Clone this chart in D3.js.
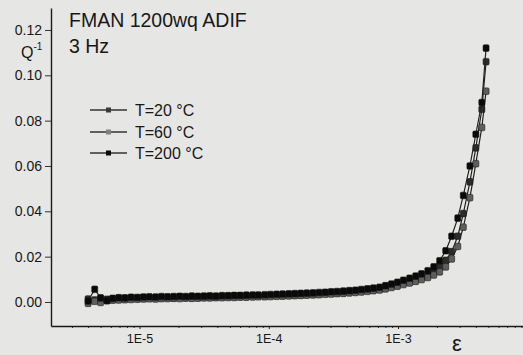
<!DOCTYPE html>
<html>
<head>
<meta charset="utf-8">
<script src="https://cdn.jsdelivr.net/npm/d3@7"></script>
<style>
  body { margin: 0; background: #e6e6e4; }
  svg { display: block; }
  text { font-family: "Liberation Sans", Arial, sans-serif; fill: #181818; }
</style>
</head>
<body>
<div id="chart"></div>
<script>
// strain amplitude (shared by all three runs)
const strain = [
  4.0e-6, 4.5e-6, 5.0e-6, 5.6e-6, 6.2e-6, 6.9e-6, 7.7e-6, 8.6e-6, 9.6e-6, 1.07e-5,
  1.19e-5, 1.33e-5, 1.48e-5, 1.65e-5, 1.84e-5, 2.05e-5, 2.28e-5, 2.54e-5, 2.83e-5, 3.15e-5,
  3.5e-5, 3.9e-5, 4.35e-5, 4.85e-5, 5.4e-5, 6.0e-5, 6.7e-5, 7.5e-5, 8.3e-5, 9.3e-5,
  1.03e-4, 1.15e-4, 1.28e-4, 1.43e-4, 1.59e-4, 1.77e-4, 1.97e-4, 2.2e-4, 2.45e-4, 2.73e-4,
  3.04e-4, 3.38e-4, 3.77e-4, 4.2e-4, 4.68e-4, 5.2e-4, 5.8e-4, 6.45e-4, 7.2e-4, 8.0e-4,
  8.9e-4, 9.9e-4, 1.1e-3, 1.23e-3, 1.37e-3, 1.52e-3, 1.7e-3, 1.89e-3, 2.1e-3, 2.34e-3,
  2.6e-3, 2.9e-3, 3.2e-3, 3.6e-3, 4.0e-3, 4.45e-3, 4.8e-3
];

// internal friction Q^-1
const q20 = [
  0.0013, 0.0009, 0.0015, 0.0012, 0.0014, 0.0013, 0.0016, 0.0015, 0.0017, 0.0018,
  0.0017, 0.0019, 0.0018, 0.0020, 0.0019, 0.0021, 0.0020, 0.0021, 0.0020, 0.0022,
  0.0021, 0.0023, 0.0022, 0.0024, 0.0023, 0.0025, 0.0024, 0.0026, 0.0027, 0.0026,
  0.0028, 0.0029, 0.0029, 0.0031, 0.0032, 0.0032, 0.0034, 0.0035, 0.0036, 0.0038,
  0.0039, 0.0041, 0.0042, 0.0045, 0.0046, 0.0049, 0.0051, 0.0055, 0.0058, 0.0065,
  0.0072, 0.0080, 0.0087, 0.0095, 0.0102, 0.0110, 0.0121, 0.0135, 0.0154, 0.0184,
  0.0222, 0.0290, 0.0390, 0.0530, 0.0680, 0.0850, 0.1060
];
const q60 = [
  -0.0006, 0.0003, -0.0002, 0.0006, 0.0008, 0.0009, 0.0010, 0.0011, 0.0012, 0.0013,
  0.0014, 0.0013, 0.0015, 0.0015, 0.0016, 0.0015, 0.0017, 0.0016, 0.0017, 0.0018,
  0.0018, 0.0019, 0.0019, 0.0020, 0.0020, 0.0021, 0.0021, 0.0022, 0.0023, 0.0023,
  0.0024, 0.0025, 0.0026, 0.0027, 0.0028, 0.0029, 0.0030, 0.0031, 0.0032, 0.0034,
  0.0035, 0.0037, 0.0038, 0.0040, 0.0042, 0.0044, 0.0047, 0.0050, 0.0053, 0.0058,
  0.0064, 0.0070, 0.0077, 0.0084, 0.0091, 0.0099, 0.0108, 0.0119, 0.0133, 0.0155,
  0.0190, 0.0245, 0.0330, 0.0460, 0.0610, 0.0770, 0.0930
];
const q200 = [
  0.0004, 0.0056, 0.0018, 0.0006, 0.0016, 0.0019, 0.0018, 0.0021, 0.0020, 0.0022,
  0.0023, 0.0022, 0.0024, 0.0023, 0.0024, 0.0025, 0.0024, 0.0026, 0.0025, 0.0026,
  0.0027, 0.0026, 0.0028, 0.0028, 0.0029, 0.0029, 0.0030, 0.0031, 0.0031, 0.0032,
  0.0033, 0.0034, 0.0035, 0.0036, 0.0037, 0.0038, 0.0039, 0.0040, 0.0042, 0.0043,
  0.0045, 0.0046, 0.0048, 0.0050, 0.0052, 0.0055, 0.0058, 0.0061, 0.0065, 0.0072,
  0.0079, 0.0087, 0.0096, 0.0105, 0.0114, 0.0124, 0.0138, 0.0155, 0.0182, 0.0226,
  0.0290, 0.0370, 0.0470, 0.0600, 0.0740, 0.0880, 0.1120
];

const seriesNames = ["T=20 °C", "T=60 °C", "T=200 °C"];
const seriesValues = [q20, q60, q200];
const markerColors = ["#2c2c2c", "#5e5e5e", "#0a0a0a"];
const legendColors = ["#3a3a3a", "#808080", "#0a0a0a"];

const yTicks = [0, 0.02, 0.04, 0.06, 0.08, 0.10, 0.12];
const xTicks = [1e-5, 1e-4, 1e-3];

const width = 523;
const height = 355;

const svg = d3.select("#chart")
    .append("svg")
    .attr("width", width)
    .attr("height", height);

svg.append("rect")
    .attr("width", width)
    .attr("height", height)
    .attr("fill", "#e6e6e4");

// scales: axis runs right up to the border of the (cropped) figure
const x = d3.scaleLog()
    .domain([Math.pow(10, -5.685), Math.pow(10, -2.033)])
    .range([51, 523]);
const y = d3.scaleLinear()
    .domain([-0.0106, 0.1297])
    .range([326, 8]);

// minor ticks on x
const minor = [];
[1e-6, 1e-5, 1e-4, 1e-3].forEach(dec => {
    for (let k = 2; k <= 9; k++) {
        const v = dec * k;
        if (v > x.domain()[0] && v < x.domain()[1]) minor.push(v);
    }
});
svg.append("g")
    .attr("transform", "translate(0,326)")
    .call(d3.axisBottom(x).tickValues(minor).tickSize(2).tickFormat(""))
    .call(g => g.select(".domain").remove())
    .selectAll("line").attr("stroke", "#333");

const xAxis = svg.append("g")
    .attr("transform", "translate(0,326)")
    .call(d3.axisBottom(x)
        .tickValues(xTicks)
        .tickSize(3)
        .tickSizeOuter(0)
        .tickPadding(5)
        .tickFormat(d => "1E" + Math.round(Math.log10(d))));
xAxis.select(".domain").attr("stroke", "#1a1a1a").attr("stroke-width", 1.5);
xAxis.selectAll("line").attr("stroke", "#222");
xAxis.selectAll("text")
    .attr("font-size", "12.5px")
    .attr("fill", "#181818");

const yAxis = svg.append("g")
    .attr("transform", "translate(51,0)")
    .call(d3.axisLeft(y)
        .tickValues(yTicks)
        .tickSize(6)
        .tickSizeOuter(0)
        .tickPadding(3)
        .tickFormat(d3.format(".2f")));
yAxis.select(".domain").attr("stroke", "#1a1a1a").attr("stroke-width", 1.4);
yAxis.selectAll("line").attr("stroke", "#333");
yAxis.selectAll("text")
    .attr("font-size", "14px")
    .attr("fill", "#181818");

// axis titles
const qLabel = svg.append("text")
    .attr("x", 21)
    .attr("y", 58)
    .attr("font-size", "16px");
qLabel.append("tspan").text("Q");
qLabel.append("tspan")
    .attr("font-size", "10px")
    .attr("dy", -8)
    .text("-1");

svg.append("text")
    .attr("x", 457)
    .attr("y", 351)
    .attr("text-anchor", "middle")
    .attr("font-size", "22px")
    .attr("font-family", "DejaVu Sans, sans-serif")
    .text("ε");

// title
svg.append("text")
    .attr("x", 69)
    .attr("y", 27)
    .attr("font-size", "19.5px")
    .text("FMAN 1200wq ADIF");
svg.append("text")
    .attr("x", 69)
    .attr("y", 53)
    .attr("font-size", "19.5px")
    .text("3 Hz");

// data
const line = d3.line()
    .x(d => x(d[0]))
    .y(d => y(d[1]));

const plot = svg.append("g");
seriesValues.forEach((vals, s) => {
    const pts = strain.map((e, i) => [e, vals[i]]);
    plot.append("path")
        .datum(pts)
        .attr("d", line)
        .attr("fill", "none")
        .attr("stroke", "#222")
        .attr("stroke-width", 1.2);
    plot.selectAll(".m" + s)
        .data(pts)
        .join("rect")
        .attr("class", "m" + s)
        .attr("x", d => x(d[0]) - 3)
        .attr("y", d => y(d[1]) - 3.3)
        .attr("width", 6)
        .attr("height", 6.6)
        .attr("rx", 1.2)
        .attr("fill", markerColors[s])
        .attr("stroke", "#1a1a1a")
        .attr("stroke-width", 0.6);
});

// legend
const legendY = [110, 132, 153];
const legend = svg.append("g");
seriesNames.forEach((name, s) => {
    const g = legend.append("g").attr("transform", `translate(0,${legendY[s]})`);
    g.append("line")
        .attr("x1", 90).attr("x2", 127)
        .attr("y1", 0).attr("y2", 0)
        .attr("stroke", "#333")
        .attr("stroke-width", 1.5);
    g.append("rect")
        .attr("x", 106).attr("y", -2.5)
        .attr("width", 5).attr("height", 5)
        .attr("fill", legendColors[s]);
    g.append("text")
        .attr("x", 135)
        .attr("y", 6)
        .attr("font-size", "16px")
        .text(name);
});
</script>
</body>
</html>
